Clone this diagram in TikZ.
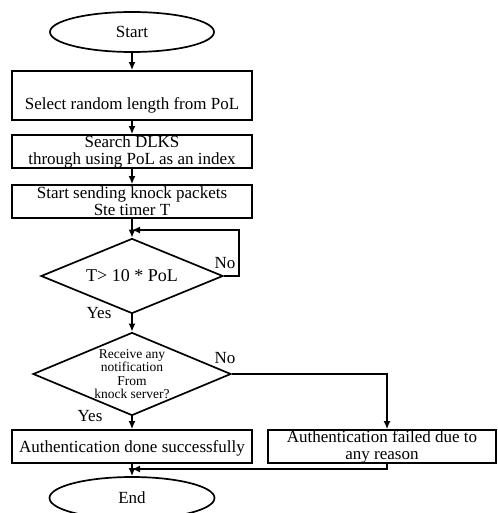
\documentclass[tikz,border=0pt]{standalone}
\usepackage{fontspec}
\setmainfont{Liberation Serif}
\usetikzlibrary{shapes.geometric,arrows.meta}

\begin{document}
\begin{tikzpicture}[x=1pt, y=-1pt, line width=1.7pt,
  term/.style={ellipse, draw, inner sep=0pt, font=\fontsize{17}{18}\selectfont},
  proc/.style={rectangle, draw, minimum width=240pt, inner sep=0pt, align=center, font=\fontsize{17}{17}\selectfont},
  cond/.style={diamond, draw, inner sep=0pt, aspect=2.4, align=center},
  lbl/.style={inner sep=0pt, font=\fontsize{17}{18}\selectfont},
  arr/.style={-{Latex[length=8pt,width=7pt]}}]
\useasboundingbox (0,0) rectangle (497,513);

\node[term, minimum width=164pt, minimum height=40pt] (start) at (132,32) {Start};
\node[proc, minimum height=49pt, text height=28pt, text depth=0pt] (sel) at (132,95.5) {Select random length from PoL};
\node[proc, minimum height=33pt] (srch) at (132,151.5) {Search DLKS\\through using PoL as an index};
\node[proc, minimum height=33pt] (send) at (132,201.5) {Start sending knock packets\\Ste timer T};
\node[cond, minimum width=182pt, minimum height=75pt, font=\fontsize{18}{18}\selectfont] (tcheck) at (132,276) {T> 10 * PoL};
\node[cond, minimum width=198pt, minimum height=83pt, inner sep=-3pt, font=\fontsize{13.5}{13.5}\selectfont] (notif) at (132,374) {Receive any\\notification\\From\\knock server?};
\node[proc, minimum height=33pt, text height=12pt, text depth=0pt] (okbox) at (132,446.5) {Authentication done successfully};
\node[proc, minimum width=228pt, minimum height=33pt] (failbox) at (382,446.5) {Authentication failed due to\\any reason};
\node[term, minimum width=165pt, minimum height=42pt] (end) at (132,498) {End};

\node[lbl] (no1) at (225,263) {No};
\node[lbl] (yes1) at (99,313) {Yes};
\node[lbl] (no2) at (225,358) {No};
\node[lbl] (yes2) at (90,416) {Yes};

\coordinate (loopin) at (132,230);
\coordinate (join) at (132,469);

\draw[arr] (start) -- (sel);
\draw[arr] (sel) -- (srch);
\draw[arr] (srch) -- (send);
\draw[arr] (send) -- (tcheck);
\draw[arr] (tcheck.east) -- ++(15,0) |- (loopin);
\draw[arr] (tcheck) -- (notif);
\draw[arr] (notif) -- (okbox);
\draw[arr] (notif.east) -| ([xshift=5pt]failbox.north);
\draw[arr] (okbox) -- (end);
\draw[arr] ([xshift=5pt]failbox.south) |- (join);
\end{tikzpicture}
\end{document}
